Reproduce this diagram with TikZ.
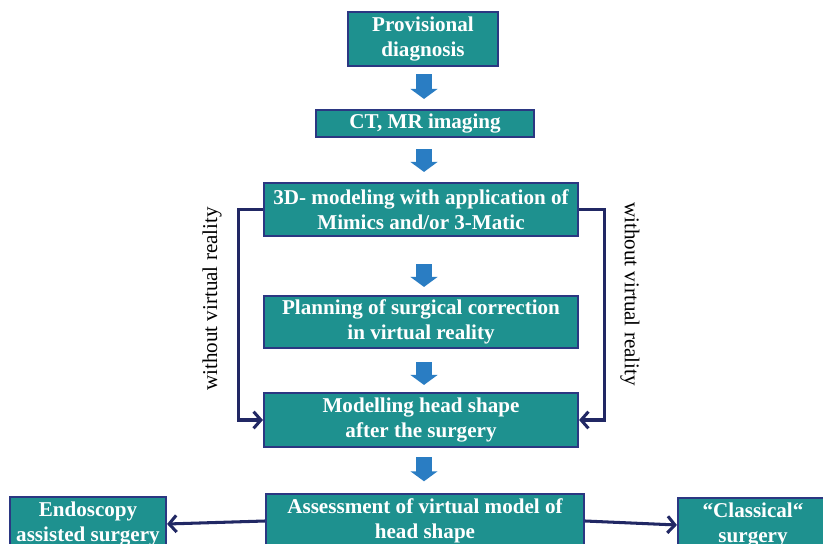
\documentclass[tikz,border=0pt]{standalone}
\usepackage{fontspec}
\setmainfont{Liberation Serif}
\usepackage{tikz}
\usetikzlibrary{arrows.meta}

\definecolor{boxteal}{RGB}{30,145,143}
\definecolor{boxnavy}{RGB}{43,55,130}
\definecolor{linenavy}{RGB}{33,40,100}
\definecolor{arrowblue}{RGB}{42,125,195}

\tikzset{
    stepbox/.style={draw=boxnavy, line width=1.8pt, fill=boxteal, text=white,
        font=\fontsize{18}{21}\selectfont\bfseries, align=center, inner sep=1pt},
    blockarrow/.style={arrowblue, line width=0.5cm, -{Triangle[width=0.8cm, length=0.3cm]}},
    sideline/.style={linenavy, line width=2.6pt, -{Straight Barb[length=0.22cm, width=0.5cm]}},
    sidelabel/.style={font=\fontsize{18}{20}\selectfont}
}

\begin{document}
\begin{tikzpicture}[x=0.03cm, y=-0.03cm]

\clip (0,0) rectangle (823,544);

% Caselle principali
\node[stepbox, minimum width=4.5cm, minimum height=1.62cm] (diag) at (423,39) {Provisional\\diagnosis};
\node[stepbox, minimum width=6.54cm, minimum height=0.81cm] (ctmr) at (425,123.5) {CT, MR imaging};
\node[stepbox, minimum width=9.42cm, minimum height=1.59cm] (model) at (421,209.5) {3D- modeling with application of\\Mimics and/or 3-Matic};
\node[stepbox, minimum width=9.42cm, minimum height=1.56cm] (plan) at (421,322) {Planning of surgical correction\\in virtual reality};
\node[stepbox, minimum width=9.42cm, minimum height=1.62cm] (head) at (421,420) {Modelling head shape\\after the surgery};
\node[stepbox, minimum width=9.54cm, minimum height=1.6cm] (assess) at (425,521) {Assessment of virtual model of\\head shape};

% Caselle laterali in basso
\node[stepbox, minimum width=4.68cm, minimum height=1.6cm] (endo) at (88,524) {Endoscopy\\assisted surgery};
\node[stepbox, minimum width=4.5cm, minimum height=1.6cm] (classic) at (753,525) {``Classical``\\surgery};

% Frecce blu tra le caselle
\coordinate (axis) at (424,0);
\foreach \a/\b/\s/\e in {diag/ctmr/7/10, ctmr/model/11/10, model/plan/27/8, plan/head/13/7, head/assess/9/12} {
    \draw[blockarrow, shorten <=\s*0.03cm, shorten >=\e*0.03cm] (axis |- \a.south) -- (axis |- \b.north);
}

% Percorsi senza realta virtuale
\draw[sideline] (model.west) -- ++(-24,0) |- (head.west);
\draw[sideline] (model.east) -- ++(25,0) |- (head.east);
\node[sidelabel, rotate=90] (leftlbl) at (212,299) {without virtual reality};
\node[sidelabel, rotate=-90] (rightlbl) at (630,294) {without virtual reality};

% Frecce verso le opzioni chirurgiche
\draw[sideline] (assess.west) -- (endo.east);
\draw[sideline] (assess.east) -- (classic.west);

\end{tikzpicture}
\end{document}
